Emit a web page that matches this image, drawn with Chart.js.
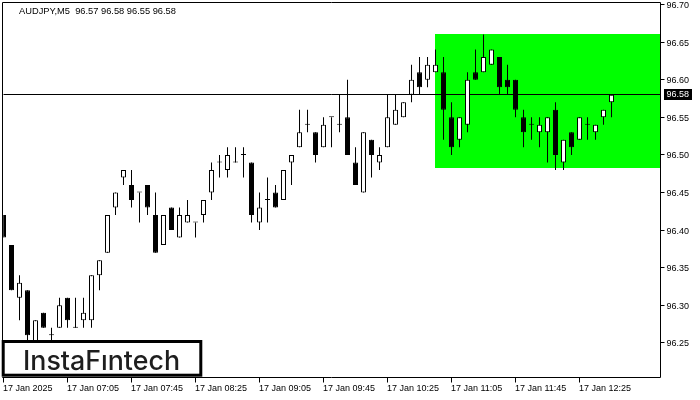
<!DOCTYPE html>
<html><head><meta charset="utf-8">
<script src="https://cdn.jsdelivr.net/npm/chart.js@4/dist/chart.umd.min.js"></script>
<style>html,body{margin:0;padding:0;background:#fff}canvas{display:block}</style>
</head><body>
<canvas id="c" width="700" height="400"></canvas>
<script>
const symbolTitle = "AUDJPY,M5  96.57 96.58 96.55 96.58";
const opens  = [96.42,96.38,96.31,96.32,96.23,96.29,96.26,96.27,96.31,96.27,96.28,96.28,96.34,96.37,96.43,96.47,96.46,96.45,96.46,96.42,
                96.38,96.43,96.39,96.41,96.41,96.42,96.45,96.49,96.48,96.49,96.50,96.49,96.41,96.44,96.45,96.44,96.49,96.51,96.54,96.53,
                96.51,96.55,96.54,96.55,96.49,96.45,96.52,96.49,96.51,96.54,96.55,96.58,96.61,96.60,96.61,96.61,96.55,96.52,96.54,96.61,
                96.61,96.62,96.63,96.60,96.60,96.55,96.54,96.53,96.53,96.56,96.49,96.53,96.52,96.54,96.53,96.55,96.57];
const highs  = [96.42,96.38,96.34,96.32,96.28,96.29,96.27,96.31,96.31,96.31,96.31,96.34,96.36,96.42,96.45,96.48,96.48,96.45,96.46,96.45,
                96.42,96.43,96.43,96.44,96.41,96.44,96.49,96.50,96.51,96.51,96.51,96.49,96.45,96.47,96.46,96.48,96.50,96.56,96.56,96.53,
                96.55,96.55,96.58,96.60,96.51,96.53,96.52,96.51,96.58,96.58,96.57,96.62,96.63,96.63,96.64,96.63,96.57,96.55,96.61,96.64,
                96.66,96.64,96.63,96.62,96.60,96.56,96.55,96.55,96.55,96.57,96.52,96.53,96.55,96.55,96.54,96.56,96.58];
const lows   = [96.39,96.32,96.28,96.25,96.22,96.27,96.25,96.27,96.27,96.27,96.27,96.27,96.32,96.37,96.42,96.46,96.43,96.41,96.42,96.37,
                96.38,96.40,96.39,96.41,96.39,96.41,96.44,96.47,96.47,96.49,96.47,96.41,96.40,96.41,96.43,96.44,96.46,96.51,96.53,96.49,
                96.51,96.51,96.53,96.50,96.46,96.45,96.47,96.48,96.51,96.54,96.55,96.57,96.58,96.59,96.61,96.52,96.50,96.51,96.53,96.60,
                96.61,96.62,96.58,96.58,96.55,96.51,96.52,96.51,96.49,96.48,96.48,96.50,96.52,96.52,96.52,96.54,96.55];
const closes = [96.39,96.32,96.33,96.26,96.28,96.27,96.26,96.30,96.28,96.27,96.29,96.34,96.36,96.42,96.45,96.48,96.44,96.45,96.43,96.37,
                96.42,96.40,96.42,96.42,96.41,96.44,96.48,96.49,96.50,96.49,96.50,96.42,96.43,96.44,96.43,96.48,96.50,96.53,96.54,96.50,
                96.54,96.55,96.54,96.50,96.46,96.53,96.50,96.50,96.55,96.56,96.57,96.60,96.59,96.62,96.62,96.56,96.51,96.55,96.60,96.60,
                96.63,96.64,96.59,96.59,96.56,96.53,96.54,96.54,96.55,96.50,96.52,96.51,96.55,96.54,96.54,96.56,96.58];
const xTickIndex  = [0, 8, 16, 24, 32, 40, 48, 56, 64, 72];
const xTickLabels = ["17 Jan 2025","17 Jan 07:05","17 Jan 07:45","17 Jan 08:25","17 Jan 09:05",
                     "17 Jan 09:45","17 Jan 10:25","17 Jan 11:05","17 Jan 11:45","17 Jan 12:25"];
const yTickValues = [96.25, 96.30, 96.35, 96.40, 96.45, 96.50, 96.55, 96.60, 96.65, 96.70];
const zoneStartIndex = 54;
const zoneHigh = 96.66;
const zoneLow = 96.482;
const lastPrice = 96.58;
const logoText = "InstaFıntech";

const AXIS_FONT = '9px "Liberation Sans", Arial, sans-serif';

const mtPlugin = {
  id: 'mt',
  beforeDatasetsDraw(chart) {
    const {ctx, chartArea: a, scales: {x, y}} = chart;
    ctx.save();
    ctx.fillStyle = '#00ff00';
    const zx = Math.floor(x.getPixelForValue(zoneStartIndex));
    const zt = Math.floor(y.getPixelForValue(zoneHigh));
    const zb = Math.floor(y.getPixelForValue(zoneLow));
    ctx.fillRect(zx, zt, a.right - zx, zb - zt);
    const py = Math.floor(y.getPixelForValue(lastPrice)) + 0.5;
    ctx.strokeStyle = '#000'; ctx.lineWidth = 1;
    ctx.beginPath(); ctx.moveTo(a.left, py); ctx.lineTo(a.right, py); ctx.stroke();
    ctx.restore();
  },
  afterDatasetsDraw(chart) {
    const {ctx, chartArea: a, scales: {x, y}} = chart;
    ctx.save();
    ctx.strokeStyle = '#000'; ctx.lineWidth = 1;
    // frame
    const L = 2.5, T = 2.5, R = 660.5, B = 377.5;
    ctx.beginPath();
    ctx.moveTo(L, T); ctx.lineTo(R, T); ctx.lineTo(R, B); ctx.lineTo(L, B); ctx.closePath();
    ctx.stroke();
    // y ticks
    ctx.font = AXIS_FONT; ctx.fillStyle = '#000'; ctx.textBaseline = 'middle'; ctx.textAlign = 'left';
    yTickValues.forEach(v => {
      const py = y.getPixelForValue(v);
      const ly = Math.floor(py) + 0.5;
      ctx.beginPath(); ctx.moveTo(R, ly); ctx.lineTo(R + 4, ly); ctx.stroke();
      ctx.fillText(v.toFixed(2), 666.5, py + 1);
    });
    // price label
    const pp = y.getPixelForValue(lastPrice);
    ctx.fillStyle = '#000';
    ctx.fillRect(664, Math.floor(pp) - 5, 28, 11);
    ctx.fillStyle = '#fff';
    ctx.fillText(lastPrice.toFixed(2), 666.5, Math.floor(pp) + 1);
    // x ticks
    ctx.fillStyle = '#000';
    xTickIndex.forEach((k, i) => {
      const px = Math.floor(x.getPixelForValue(k)) + 0.5;
      ctx.beginPath(); ctx.moveTo(px, B); ctx.lineTo(px, B + 5); ctx.stroke();
      ctx.fillText(xTickLabels[i], px - 0.5, 388.5);
    });
    // title
    ctx.font = '9.3px "Liberation Sans", Arial, sans-serif';
    ctx.fillText(symbolTitle, 19, 11);
    // logo box
    ctx.fillStyle = '#fff';
    ctx.fillRect(2, 340, 200, 37);
    ctx.lineWidth = 3;
    ctx.strokeRect(3.2, 341.5, 197.6, 33.7);
    let fs = 28;
    ctx.font = '500 ' + fs + 'px Inter, "Open Sans", sans-serif';
    const w = ctx.measureText(logoText).width;
    fs = fs * 157 / w;
    ctx.font = '500 ' + fs.toFixed(2) + 'px Inter, "Open Sans", sans-serif';
    ctx.fillStyle = '#1e1e1e';
    ctx.textAlign = 'center'; ctx.textBaseline = 'alphabetic';
    ctx.fillText(logoText, 101.5, 369.5);
    ctx.restore();
  }
};

const idx = opens.map((_, i) => i);
new Chart(document.getElementById('c'), {
  type: 'bar',
  data: {
    datasets: [
      {
        label: 'body', order: 0,
        data: idx.map(i => ({x: i, y: [opens[i], closes[i]]})),
        backgroundColor: idx.map(i => closes[i] > opens[i] ? '#ffffff' : '#000000'),
        borderColor: '#000', borderWidth: 1, borderSkipped: false,
        maxBarThickness: 5, minBarLength: 1
      },
      {
        label: 'wick', order: 1,
        data: idx.map(i => ({x: i, y: [lows[i], highs[i]]})),
        backgroundColor: '#000', borderWidth: 0,
        maxBarThickness: 1
      }
    ]
  },
  options: {
    responsive: false, animation: false, events: [],
    layout: {padding: {left: 3.5, right: 40, top: 2, bottom: 22}},
    plugins: {legend: {display: false}, tooltip: {enabled: false}},
    datasets: {bar: {grouped: false}},
    scales: {
      x: {type: 'linear', min: 0, max: 82.06, display: false, offset: false},
      y: {type: 'linear', min: 96.2033, max: 96.7033, display: false}
    }
  },
  plugins: [mtPlugin]
});
</script>
</body></html>
